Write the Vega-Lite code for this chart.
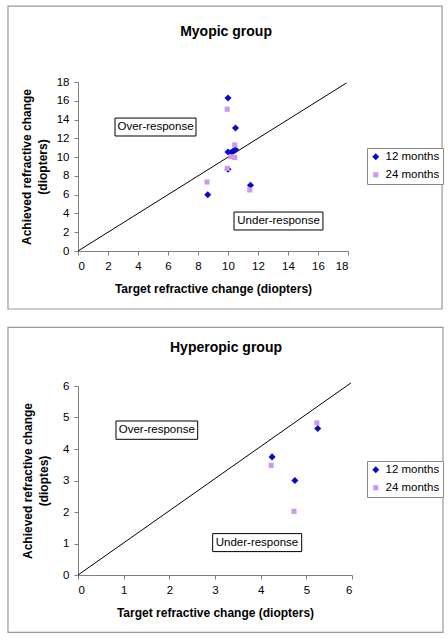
{
  "$schema": "https://vega.github.io/schema/vega-lite/v6.json",
  "background": "white",
  "padding": {"left": 7, "top": 5, "right": 0, "bottom": 0},
  "spacing": 16,
  "config": {
    "view": {"stroke": null},
    "font": "Liberation Sans",
    "axis": {
      "grid": false,
      "domainColor": "#808080",
      "tickColor": "#808080",
      "tickSize": 4,
      "labelFont": "Liberation Sans",
      "labelFontSize": 11.5,
      "labelColor": "#000",
      "labelPadding": 5,
      "labelOverlap": false,
      "titleFont": "Liberation Sans",
      "titleFontSize": 12,
      "titleFontWeight": "bold",
      "titleColor": "#000"
    },
    "legend": {
      "orient": "none",
      "strokeColor": "#888",
      "fillColor": "white",
      "padding": 3,
      "rowPadding": 5,
      "labelFont": "Liberation Sans",
      "labelFontSize": 11.5,
      "labelColor": "#000",
      "labelOffset": 4,
      "symbolStrokeWidth": 0
    }
  },
  "datasets": {
    "one": [{}],
    "myopic": [
      {"target": 10.0, "achieved": 16.3, "period": "12 months"},
      {"target": 10.5, "achieved": 13.1, "period": "12 months"},
      {"target": 10.0, "achieved": 10.55, "period": "12 months"},
      {"target": 10.2, "achieved": 10.5, "period": "12 months"},
      {"target": 10.35, "achieved": 10.65, "period": "12 months"},
      {"target": 10.5, "achieved": 10.8, "period": "12 months"},
      {"target": 10.0, "achieved": 8.7, "period": "12 months"},
      {"target": 8.65, "achieved": 6.0, "period": "12 months"},
      {"target": 11.5, "achieved": 7.0, "period": "12 months"},
      {"target": 9.95, "achieved": 15.1, "period": "24 months"},
      {"target": 10.45, "achieved": 11.3, "period": "24 months"},
      {"target": 10.2, "achieved": 10.05, "period": "24 months"},
      {"target": 10.45, "achieved": 9.95, "period": "24 months"},
      {"target": 9.95, "achieved": 8.8, "period": "24 months"},
      {"target": 8.6, "achieved": 7.35, "period": "24 months"},
      {"target": 11.45, "achieved": 6.5, "period": "24 months"}
    ],
    "hyperopic": [
      {"target": 4.25, "achieved": 3.75, "period": "12 months"},
      {"target": 4.75, "achieved": 3.0, "period": "12 months"},
      {"target": 5.25, "achieved": 4.65, "period": "12 months"},
      {"target": 4.23, "achieved": 3.48, "period": "24 months"},
      {"target": 4.73, "achieved": 2.02, "period": "24 months"},
      {"target": 5.23, "achieved": 4.83, "period": "24 months"}
    ]
  },
  "vconcat": [
    {
      "width": 270,
      "height": 169,
      "layer": [
        {
          "data": {"name": "myopic"},
          "mark": {"type": "point", "filled": true, "opacity": 0},
          "encoding": {
            "x": {"field": "target", "type": "quantitative", "scale": {"domain": [0, 18], "nice": false, "zero": false},
                  "axis": {"values": [0, 2, 4, 6, 8, 10, 12, 14, 16, 18], "tickCount": 20, "format": "d", "title": "Target refractive change (diopters)", "titlePadding": 12}},
            "y": {"field": "achieved", "type": "quantitative", "scale": {"domain": [0, 18], "nice": false, "zero": false},
                  "axis": {"values": [0, 2, 4, 6, 8, 10, 12, 14, 16, 18], "tickCount": 20, "format": "d", "title": ["Achieved refractive change", "(diopters)"], "titlePadding": 7, "titleLineHeight": 16}}
          }
        },
        {
          "data": {"name": "one"},
          "mark": {"type": "rect", "filled": false, "stroke": "#999", "strokeWidth": 1.2},
          "encoding": {
            "x": {"datum": -4.667, "type": "quantitative"},
            "x2": {"datum": 24.27},
            "y": {"datum": -6.18, "type": "quantitative"},
            "y2": {"datum": 26.09}
          }
        },
        {
          "data": {"name": "one"},
          "mark": {"type": "text", "fontSize": 14, "fontWeight": "bold", "font": "Liberation Sans", "baseline": "middle", "align": "center"},
          "encoding": {
            "x": {"datum": 9.87, "type": "quantitative"},
            "y": {"datum": 23.32, "type": "quantitative"},
            "text": {"value": "Myopic group"}
          }
        },
        {
          "data": {"name": "one"},
          "mark": {"type": "rule", "color": "#000", "strokeWidth": 1},
          "encoding": {
            "x": {"datum": 0, "type": "quantitative"},
            "y": {"datum": 0, "type": "quantitative"},
            "x2": {"datum": 17.9},
            "y2": {"datum": 17.9}
          }
        },
        {
          "data": {"name": "one"},
          "mark": {"type": "rect", "fill": "white", "stroke": "#000", "strokeWidth": 1},
          "encoding": {
            "x": {"datum": 2.467, "type": "quantitative"},
            "x2": {"datum": 7.867},
            "y": {"datum": 12.25, "type": "quantitative"},
            "y2": {"datum": 14.16}
          }
        },
        {
          "data": {"name": "one"},
          "mark": {"type": "rect", "fill": "white", "stroke": "#000", "strokeWidth": 1},
          "encoding": {
            "x": {"datum": 10.4, "type": "quantitative"},
            "x2": {"datum": 16.33},
            "y": {"datum": 2.24, "type": "quantitative"},
            "y2": {"datum": 4.15}
          }
        },
        {
          "data": {"name": "one"},
          "mark": {"type": "text", "fontSize": 11.5, "baseline": "middle", "align": "center"},
          "encoding": {
            "x": {"datum": 5.167, "type": "quantitative"},
            "y": {"datum": 13.2, "type": "quantitative"},
            "text": {"value": "Over-response"}
          }
        },
        {
          "data": {"name": "one"},
          "mark": {"type": "text", "fontSize": 11.5, "baseline": "middle", "align": "center"},
          "encoding": {
            "x": {"datum": 13.37, "type": "quantitative"},
            "y": {"datum": 3.2, "type": "quantitative"},
            "text": {"value": "Under-response"}
          }
        },
        {
          "data": {"name": "myopic"},
          "mark": {"type": "point", "filled": true, "opacity": 1, "strokeWidth": 0},
          "encoding": {
            "x": {"field": "target", "type": "quantitative"},
            "y": {"field": "achieved", "type": "quantitative"},
            "color": {"field": "period", "type": "nominal",
                      "scale": {"domain": ["12 months", "24 months"], "range": ["#0808cc", "#cc99ee"]},
                      "legend": {"title": null, "legendX": 289, "legendY": 66}},
            "shape": {"field": "period", "type": "nominal",
                      "scale": {"domain": ["12 months", "24 months"], "range": ["diamond", "square"]},
                      "legend": {"title": null, "legendX": 289, "legendY": 66}},
            "size": {"field": "period", "type": "nominal",
                     "scale": {"domain": ["12 months", "24 months"], "range": [50, 26]},
                     "legend": {"title": null, "legendX": 289, "legendY": 66}}
          }
        }
      ]
    },
    {
      "width": 274,
      "height": 189,
      "layer": [
        {
          "data": {"name": "hyperopic"},
          "mark": {"type": "point", "filled": true, "opacity": 0},
          "encoding": {
            "x": {"field": "target", "type": "quantitative", "scale": {"domain": [0, 6], "nice": false, "zero": false},
                  "axis": {"values": [0, 1, 2, 3, 4, 5, 6], "tickCount": 20, "format": "d", "title": "Target refractive change (diopters)", "titlePadding": 12}},
            "y": {"field": "achieved", "type": "quantitative", "scale": {"domain": [0, 6], "nice": false, "zero": false},
                  "axis": {"values": [0, 1, 2, 3, 4, 5, 6], "tickCount": 20, "format": "d", "title": ["Achieved refractive change", "(dioptes)"], "titlePadding": 12, "titleLineHeight": 16}}
          }
        },
        {
          "data": {"name": "one"},
          "mark": {"type": "rect", "filled": false, "stroke": "#999", "strokeWidth": 1.2},
          "encoding": {
            "x": {"datum": -1.533, "type": "quantitative"},
            "x2": {"datum": 7.992},
            "y": {"datum": -1.819, "type": "quantitative"},
            "y2": {"datum": 7.863}
          }
        },
        {
          "data": {"name": "one"},
          "mark": {"type": "text", "fontSize": 14, "fontWeight": "bold", "font": "Liberation Sans", "baseline": "middle", "align": "center"},
          "encoding": {
            "x": {"datum": 3.241, "type": "quantitative"},
            "y": {"datum": 7.197, "type": "quantitative"},
            "text": {"value": "Hyperopic group"}
          }
        },
        {
          "data": {"name": "one"},
          "mark": {"type": "rule", "color": "#000", "strokeWidth": 1},
          "encoding": {
            "x": {"datum": 0, "type": "quantitative"},
            "y": {"datum": 0, "type": "quantitative"},
            "x2": {"datum": 5.98},
            "y2": {"datum": 6.1}
          }
        },
        {
          "data": {"name": "one"},
          "mark": {"type": "rect", "fill": "white", "stroke": "#000", "strokeWidth": 1},
          "encoding": {
            "x": {"datum": 0.832, "type": "quantitative"},
            "x2": {"datum": 2.621},
            "y": {"datum": 4.308, "type": "quantitative"},
            "y2": {"datum": 4.889}
          }
        },
        {
          "data": {"name": "one"},
          "mark": {"type": "rect", "fill": "white", "stroke": "#000", "strokeWidth": 1},
          "encoding": {
            "x": {"datum": 2.949, "type": "quantitative"},
            "x2": {"datum": 4.898},
            "y": {"datum": 0.743, "type": "quantitative"},
            "y2": {"datum": 1.314}
          }
        },
        {
          "data": {"name": "one"},
          "mark": {"type": "text", "fontSize": 11.5, "baseline": "middle", "align": "center"},
          "encoding": {
            "x": {"datum": 1.725, "type": "quantitative"},
            "y": {"datum": 4.6, "type": "quantitative"},
            "text": {"value": "Over-response"}
          }
        },
        {
          "data": {"name": "one"},
          "mark": {"type": "text", "fontSize": 11.5, "baseline": "middle", "align": "center"},
          "encoding": {
            "x": {"datum": 3.919, "type": "quantitative"},
            "y": {"datum": 1.03, "type": "quantitative"},
            "text": {"value": "Under-response"}
          }
        },
        {
          "data": {"name": "hyperopic"},
          "mark": {"type": "point", "filled": true, "opacity": 1, "strokeWidth": 0},
          "encoding": {
            "x": {"field": "target", "type": "quantitative"},
            "y": {"field": "achieved", "type": "quantitative"},
            "color": {"field": "period", "type": "nominal",
                      "scale": {"domain": ["12 months", "24 months"], "range": ["#0808cc", "#cc99ee"]},
                      "legend": {"title": null, "legendX": 289, "legendY": 75}},
            "shape": {"field": "period", "type": "nominal",
                      "scale": {"domain": ["12 months", "24 months"], "range": ["diamond", "square"]},
                      "legend": {"title": null, "legendX": 289, "legendY": 75}},
            "size": {"field": "period", "type": "nominal",
                     "scale": {"domain": ["12 months", "24 months"], "range": [50, 26]},
                     "legend": {"title": null, "legendX": 289, "legendY": 75}}
          }
        }
      ]
    }
  ],
  "resolve": {"scale": {"x": "independent", "y": "independent", "color": "independent", "shape": "independent", "size": "independent"}, "legend": {"color": "independent", "shape": "independent", "size": "independent"}}
}
